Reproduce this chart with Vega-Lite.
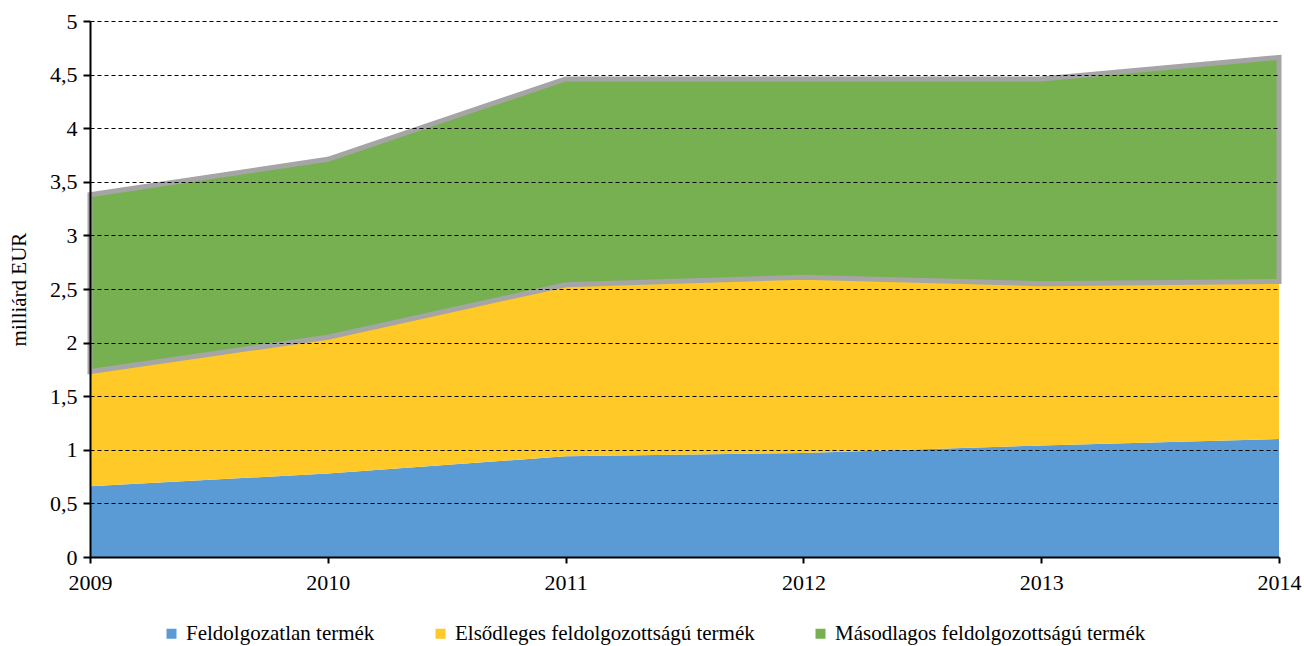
{
  "$schema": "https://vega.github.io/schema/vega-lite/v6.json",
  "width": 1189,
  "height": 536,
  "autosize": "none",
  "padding": {"left": 90, "top": 21, "right": 25, "bottom": 89},
  "background": "white",
  "config": {
    "font": "Liberation Serif",
    "view": {"stroke": null}
  },
  "data": {
    "values": [
      {"year": 2009, "series": "Feldolgozatlan termék", "order": 1, "value": 0.66},
      {"year": 2010, "series": "Feldolgozatlan termék", "order": 1, "value": 0.78},
      {"year": 2011, "series": "Feldolgozatlan termék", "order": 1, "value": 0.94},
      {"year": 2012, "series": "Feldolgozatlan termék", "order": 1, "value": 0.97},
      {"year": 2013, "series": "Feldolgozatlan termék", "order": 1, "value": 1.04},
      {"year": 2014, "series": "Feldolgozatlan termék", "order": 1, "value": 1.10},
      {"year": 2009, "series": "Elsődleges feldolgozottságú termék", "order": 2, "value": 1.07},
      {"year": 2010, "series": "Elsődleges feldolgozottságú termék", "order": 2, "value": 1.27},
      {"year": 2011, "series": "Elsődleges feldolgozottságú termék", "order": 2, "value": 1.60},
      {"year": 2012, "series": "Elsődleges feldolgozottságú termék", "order": 2, "value": 1.64},
      {"year": 2013, "series": "Elsődleges feldolgozottságú termék", "order": 2, "value": 1.51},
      {"year": 2014, "series": "Elsődleges feldolgozottságú termék", "order": 2, "value": 1.47},
      {"year": 2009, "series": "Másodlagos feldolgozottságú termék", "order": 3, "value": 1.65},
      {"year": 2010, "series": "Másodlagos feldolgozottságú termék", "order": 3, "value": 1.66},
      {"year": 2011, "series": "Másodlagos feldolgozottságú termék", "order": 3, "value": 1.92},
      {"year": 2012, "series": "Másodlagos feldolgozottságú termék", "order": 3, "value": 1.85},
      {"year": 2013, "series": "Másodlagos feldolgozottságú termék", "order": 3, "value": 1.91},
      {"year": 2014, "series": "Másodlagos feldolgozottságú termék", "order": 3, "value": 2.09}
    ]
  },
  "mark": {"type": "area", "strokeWidth": 5, "strokeJoin": "miter"},
  "encoding": {
    "x": {
      "field": "year",
      "type": "quantitative",
      "scale": {"domain": [2009, 2014], "nice": false, "zero": false},
      "axis": {
        "title": null,
        "values": [2009, 2010, 2011, 2012, 2013, 2014],
        "format": "d",
        "grid": false,
        "domainColor": "black",
        "domainWidth": 2,
        "tickColor": "black",
        "tickWidth": 2,
        "tickSize": 6,
        "labelFont": "Liberation Serif",
        "labelFontSize": 22,
        "labelColor": "black",
        "labelPadding": 9,
        "labelFlush": false,
        "labelBound": false,
        "labelOverlap": false,
        "zindex": 1
      }
    },
    "y": {
      "field": "value",
      "type": "quantitative",
      "stack": "zero",
      "scale": {"domain": [0, 5], "nice": false},
      "axis": {
        "title": "milliárd EUR",
        "titleFont": "Liberation Serif",
        "titleFontSize": 21,
        "titleFontWeight": "normal",
        "titleColor": "black",
        "titlePadding": 20,
        "values": [0, 0.5, 1, 1.5, 2, 2.5, 3, 3.5, 4, 4.5, 5],
        "labelExpr": "replace(format(datum.value, '~g'), '.', ',')",
        "labelFont": "Liberation Serif",
        "labelFontSize": 22,
        "labelColor": "black",
        "labelPadding": 6,
        "labelOverlap": false,
        "domainColor": "black",
        "domainWidth": 2,
        "tickColor": "black",
        "tickWidth": 2,
        "tickSize": 7,
        "grid": true,
        "gridColor": "black",
        "gridWidth": 1,
        "gridDash": [4, 3],
        "zindex": 1
      }
    },
    "color": {
      "field": "series",
      "type": "nominal",
      "sort": ["Feldolgozatlan termék", "Elsődleges feldolgozottságú termék", "Másodlagos feldolgozottságú termék"],
      "scale": {
        "domain": ["Feldolgozatlan termék", "Elsődleges feldolgozottságú termék", "Másodlagos feldolgozottságú termék"],
        "range": ["#5B9BD5", "#FFC928", "#76B050"]
      },
      "legend": {
        "title": null,
        "orient": "none",
        "legendX": 71,
        "legendY": 602,
        "direction": "horizontal",
        "symbolType": "square",
        "symbolSize": 100,
        "symbolStrokeWidth": 0,
        "labelFont": "Liberation Serif",
        "labelFontSize": 21,
        "labelColor": "black",
        "labelLimit": 500,
        "labelOffset": 4,
        "columnPadding": 55
      }
    },
    "stroke": {
      "condition": {"test": "datum.series === 'Másodlagos feldolgozottságú termék'", "value": "#A5A5A5"},
      "value": null
    },
    "order": {"field": "order", "type": "quantitative"}
  }
}
